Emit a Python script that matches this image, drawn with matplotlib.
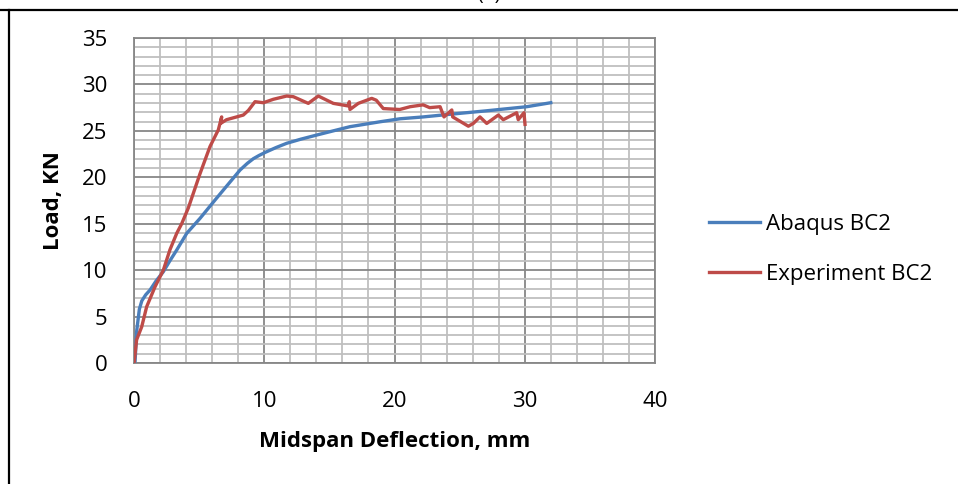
import matplotlib.pyplot as plt
from matplotlib.lines import Line2D
from matplotlib.ticker import MultipleLocator

plt.rcParams['font.family'] = ['Open Sans', 'DejaVu Sans']

# Abaqus BC2
abaqus_x = [0, 0.08, 0.2, 0.41, 0.6, 0.9, 1.23, 1.7, 2.25, 2.75, 3.28, 4.05, 5.07, 6.22,
            7.2, 8.14, 8.7, 9.16, 9.6, 10.1, 10.9, 11.72, 12.8, 14.03, 15.3, 16.58, 18.9,
            20.42, 22.2, 24.0, 27.0, 30.15, 32.0]
abaqus_y = [0, 0.14, 3.4, 5.8, 6.7, 7.35, 7.86, 8.85, 9.83, 11.0, 12.17, 13.97, 15.58, 17.55,
            19.2, 20.78, 21.5, 22.0, 22.35, 22.7, 23.2, 23.66, 24.1, 24.55, 25.0, 25.45, 25.98,
            26.3, 26.5, 26.75, 27.15, 27.6, 28.03]

# Experiment BC2
exp_x = [0, 0.2, 0.59, 0.97, 1.61, 2.25, 2.76, 3.28, 3.66, 4.17, 5.07, 5.83, 6.47, 6.73,
         6.65, 7.1, 8.39, 8.78, 9.29, 9.93, 10.7, 11.72, 12.23, 13.38, 14.15, 15.3, 16.45,
         16.53, 16.58, 17.22, 18.25, 18.6, 19.14, 20.4, 21.2, 22.2, 22.7, 23.5, 23.8, 24.4,
         24.47, 25.67, 26.05, 26.56, 27.08, 27.97, 28.35, 29.38, 29.5, 29.94, 30.02]
exp_y = [0, 2.5, 3.9, 6.06, 8.2, 10.0, 12.2, 13.97, 15.0, 16.7, 20.4, 23.3, 25.1, 26.5,
         25.8, 26.2, 26.7, 27.2, 28.14, 28.03, 28.4, 28.75, 28.68, 27.96, 28.75, 27.96, 27.68,
         28.14, 27.3, 27.96, 28.5, 28.3, 27.4, 27.3, 27.6, 27.8, 27.5, 27.6, 26.5, 27.25,
         26.5, 25.5, 25.8, 26.5, 25.8, 26.7, 26.2, 26.95, 26.2, 26.95, 25.7]

fig = plt.figure(figsize=(9.58, 4.84), dpi=100)
ax = fig.add_axes([0.1399, 0.25, 0.5438, 0.6715])

ax.plot(abaqus_x, abaqus_y, color='#4A7EBB', lw=2.4, label='Abaqus BC2', zorder=3,
        solid_joinstyle='round')
ax.plot(exp_x, exp_y, color='#BE4B48', lw=2.4, label='Experiment BC2', zorder=3,
        solid_joinstyle='round')

ax.set_xlim(0, 40)
ax.set_ylim(0, 35)
ax.xaxis.set_major_locator(MultipleLocator(10))
ax.xaxis.set_minor_locator(MultipleLocator(2))
ax.yaxis.set_major_locator(MultipleLocator(5))
ax.yaxis.set_minor_locator(MultipleLocator(1))
ax.grid(which='minor', color='#BFBFBF', lw=1.3)
ax.grid(which='major', color='#878787', lw=1.3)
ax.set_axisbelow(True)
for s in ax.spines.values():
    s.set_color('#878787')
    s.set_linewidth(1.3)
ax.tick_params(which='both', length=0, labelsize=16)
ax.tick_params(axis='x', pad=20)
ax.tick_params(axis='y', pad=19)

ax.set_xlabel('Midspan Deflection, mm', fontsize=16, fontweight='bold', labelpad=14)
ax.set_ylabel('Load, KN', fontsize=16, fontweight='bold', labelpad=13)

ax.legend(loc='center left', bbox_to_anchor=(1.065, 0.35), frameon=False, fontsize=16,
          handlelength=2.3, handletextpad=0.25, labelspacing=1.3)

fig.text(0.51, 1.0, '(b)', ha='center', va='baseline', fontsize=14)
fig.add_artist(Line2D([0, 1], [1 - 9.5 / 484, 1 - 9.5 / 484], color='black', lw=1.6))
fig.add_artist(Line2D([9 / 958, 9 / 958], [0, 1 - 9.5 / 484], color='black', lw=1.6))

fig.savefig('out.png', dpi=100)
